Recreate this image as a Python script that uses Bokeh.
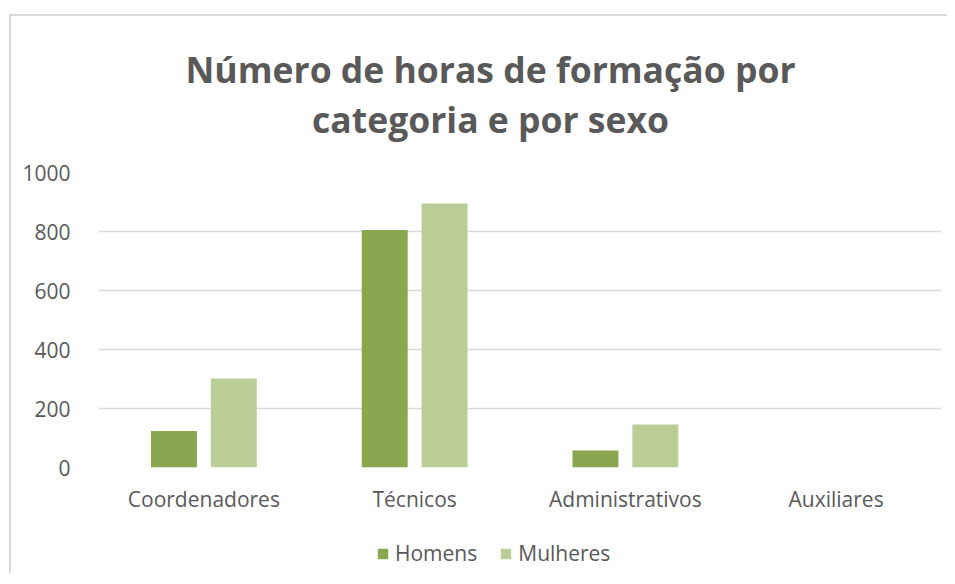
from bokeh.plotting import figure
from bokeh.layouts import column
from bokeh.models import (FactorRange, Range1d, ColumnDataSource, FixedTicker,
                          Label, Legend, LegendItem)
from bokeh.transform import dodge
from bokeh.embed import file_html
from bokeh.resources import INLINE

# ---- data ----
categories = ["Coordenadores", "Técnicos", "Administrativos", "Auxiliares"]
homens = [124, 805, 58, 0]
mulheres = [302, 895, 146, 0]
series_names = ["Homens", "Mulheres"]
y_ticks = [0, 200, 400, 600, 800, 1000]
title_lines = ["Número de horas de formação por", "categoria e por sexo"]

# ---- style ----
FONT = "Open Sans"
TXT = "#595959"
GRID = "#d9d9d9"
C_H = "#8aa64e"
C_M = "#bacd96"
W = 936


def blank(height):
    f = figure(width=W, height=height, x_range=Range1d(0, 1), y_range=Range1d(0, 1),
               toolbar_location=None, output_backend="svg",
               x_axis_location=None, y_axis_location=None,
               min_border_left=0, min_border_right=0, min_border_top=0, min_border_bottom=0)
    f.outline_line_color = None
    f.background_fill_color = "white"
    f.border_fill_color = "white"
    f.grid.visible = False
    return f


# ---- title block ----
pt = blank(142)
for txt, yoff in zip(title_lines, [90, 40]):
    pt.add_layout(Label(x=392, y=yoff, x_units="screen", y_units="screen", text=txt,
                        text_align="center", text_baseline="alphabetic",
                        text_font=FONT, text_font_size="35.5px", text_font_style="bold",
                        text_color=TXT))

# ---- main chart ----
src = ColumnDataSource(dict(cat=categories, homens=homens, mulheres=mulheres))

p = figure(frame_width=843, frame_height=295,
           x_range=FactorRange(*categories, range_padding=0),
           y_range=Range1d(0, 1000),
           toolbar_location=None, output_backend="svg",
           min_border_left=87, min_border_right=6,
           min_border_top=14, min_border_bottom=50)
p.outline_line_color = None
p.background_fill_color = "white"
p.border_fill_color = "white"

r1 = p.vbar(x=dodge("cat", -0.142, range=p.x_range), top="homens", width=0.218,
            source=src, fill_color=C_H, line_color=None)
r2 = p.vbar(x=dodge("cat", 0.142, range=p.x_range), top="mulheres", width=0.218,
            source=src, fill_color=C_M, line_color=None)

p.yaxis.ticker = FixedTicker(ticks=y_ticks)
p.yaxis.axis_line_color = None
p.yaxis.major_tick_line_color = None
p.yaxis.minor_tick_line_color = None
p.yaxis.major_label_standoff = 22
p.yaxis.major_label_text_font = FONT
p.yaxis.major_label_text_font_size = "21px"
p.yaxis.major_label_text_color = TXT

p.xaxis.axis_line_color = None
p.xaxis.major_tick_line_color = None
p.xaxis.minor_tick_line_color = None
p.xaxis.major_label_standoff = 11
p.xaxis.major_label_text_font = FONT
p.xaxis.major_label_text_font_size = "21px"
p.xaxis.major_label_text_color = TXT

p.xgrid.grid_line_color = None
p.ygrid.grid_line_color = GRID
p.ygrid.grid_line_width = 1.5

# ---- legend block (legend keys carry the series colours) ----
pl = blank(56)
key_src = ColumnDataSource(dict(x=[0.5], top=[0.0]))
k1 = pl.vbar(x="x", top="top", width=0.0, source=key_src, fill_color=C_H, line_color=None)
k2 = pl.vbar(x="x", top="top", width=0.0, source=key_src, fill_color=C_M, line_color=None)
legend = Legend(items=[LegendItem(label=series_names[0], renderers=[k1]),
                       LegendItem(label=series_names[1], renderers=[k2])],
                orientation="horizontal", location=(278, 6),
                glyph_width=13, glyph_height=13, label_standoff=6, spacing=22,
                label_text_font=FONT, label_text_font_size="21px",
                label_text_color=TXT, border_line_color=None,
                background_fill_alpha=0, margin=0, padding=2)
pl.add_layout(legend, "center")

layout = column(pt, p, pl, spacing=0,
                styles={"border-left": "2px solid #d9d9d9", "border-top": "2px solid #d9d9d9",
                        "margin-top": "14px", "margin-left": "9px", "gap": "0px"})

open("out.html", "w").write(file_html(layout, INLINE))
